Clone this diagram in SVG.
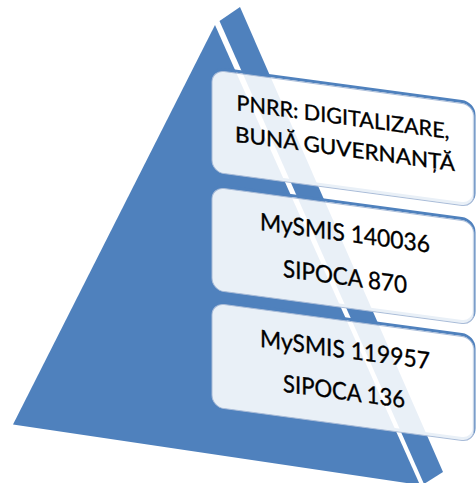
<svg xmlns="http://www.w3.org/2000/svg" width="476" height="483" viewBox="0 0 476 483">
  <style>
    .face{fill:#4F81BD}
    .shadow{fill:none;stroke:#4F81BD;stroke-width:3}
    .box{fill:#ffffff;fill-opacity:0.88;stroke:#A9BCD8;stroke-width:1}
    .t{font-family:Lato,"Open Sans","Liberation Sans",sans-serif;fill:#000000;stroke:#000000;stroke-width:0.35;text-anchor:middle}
    .s1{font-size:21.5px}
    .s2{font-size:24px}
  </style>
  <rect width="476" height="483" fill="#ffffff"/>
  <g id="pyramid">
    <polygon class="face" points="215,25 13,424.5 420,485"/>
    <polygon class="face" points="219.5,21 240,7 443,472 424,484"/>
  </g>
  <g id="connectors"/>
  <g transform="matrix(1,0.1335,0,1,0,-28.3)">
    <g id="level1">
      <rect class="shadow" x="212" y="68" width="262" height="102" rx="12"/>
      <rect class="box" x="212" y="70" width="262" height="102" rx="12"/>
      <text class="t s1" x="343" y="107" textLength="213" lengthAdjust="spacingAndGlyphs">PNRR: DIGITALIZARE,</text>
      <text class="t s1" x="345" y="138.6" textLength="220" lengthAdjust="spacingAndGlyphs">BUNĂ GUVERNANȚĂ</text>
    </g>
    <g id="level2">
      <rect class="shadow" x="212" y="185" width="262" height="103" rx="12"/>
      <rect class="box" x="212" y="187" width="262" height="103" rx="12"/>
      <text class="t s2" x="345" y="223.6" textLength="170" lengthAdjust="spacingAndGlyphs">MySMIS 140036</text>
      <text class="t s2" x="345" y="267.4" textLength="124" lengthAdjust="spacingAndGlyphs">SIPOCA 870</text>
    </g>
    <g id="level3">
      <rect class="shadow" x="212" y="301" width="262" height="104" rx="12"/>
      <rect class="box" x="212" y="303" width="262" height="104" rx="12"/>
      <text class="t s2" x="345" y="340.3" textLength="170" lengthAdjust="spacingAndGlyphs">MySMIS 119957</text>
      <text class="t s2" x="344" y="382.2" textLength="122" lengthAdjust="spacingAndGlyphs">SIPOCA 136</text>
    </g>
  </g>
</svg>
